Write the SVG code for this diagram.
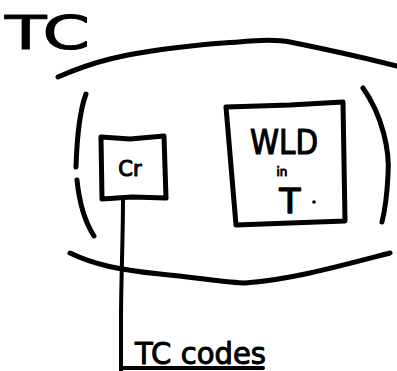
<svg xmlns="http://www.w3.org/2000/svg" width="397" height="371" viewBox="0 0 397 371">
  <style>
    .ink { fill: none; stroke: #000; stroke-width: 5; stroke-linecap: round; stroke-linejoin: round; }
    .thin { stroke-width: 4; }
    .hand { font-family: "DejaVu Sans", "Liberation Sans", sans-serif; fill: #000; stroke: #000; stroke-linejoin: round; }
  </style>
  <rect width="397" height="371" fill="#fff"/>

  <!-- title -->
  <text class="hand" x="5" y="49" font-size="46" stroke-width="1" textLength="85" lengthAdjust="spacingAndGlyphs">TC</text>

  <!-- TC container: two arcs with bracket sides -->
  <g id="tc-container">
    <path class="ink" d="M58,77 C90,63 120,53 200,45 C240,42 270,38 290,42 C330,50 365,58 397,66"/>
    <path class="ink" d="M86,94 C80,110 77,135 76,167"/>
    <path class="ink" d="M77,180 C79,200 85,222 94,236"/>
    <path class="ink" d="M363,88 C382,115 390,150 388,175 C387,195 385,210 382,222"/>
    <path class="ink" d="M70,253 C95,265 120,270 160,274 C200,278 230,283 245,283 C290,280 340,266 390,253"/>
  </g>

  <!-- Cr node -->
  <g id="cr">
    <path class="ink" d="M101,137 L130,139 L164,136 L166,198 L132,197 L102,199 Z"/>
    <text class="hand" x="130" y="176" font-size="21" stroke-width="1.1" text-anchor="middle">Cr</text>
  </g>

  <!-- WLD in T node -->
  <g id="wld">
    <path class="ink" d="M226,107 L290,105 L343,102 L345,221 L290,223 L236,225 Z"/>
    <text class="hand" x="284" y="154" font-size="34" stroke-width="1.2" text-anchor="middle" textLength="68" lengthAdjust="spacingAndGlyphs">WLD</text>
    <text class="hand" x="282" y="176" font-size="12" stroke-width="0.9" text-anchor="middle">in</text>
    <text class="hand" x="290" y="213" font-size="34" stroke-width="1.6" text-anchor="middle">T</text>
    <circle cx="314" cy="202" r="1.8" fill="#000"/>
  </g>

  <!-- connector from Cr down to the code label -->
  <g id="connectors">
    <path class="ink thin" d="M123,198 C123,240 121,280 121,320 L121,371"/>
  </g>

  <!-- label -->
  <g id="tc-codes">
    <text class="hand" x="135" y="364" font-size="30" stroke-width="1" textLength="131" lengthAdjust="spacingAndGlyphs">TC codes</text>
    <path class="ink thin" d="M122,368 L263,368"/>
  </g>
</svg>
